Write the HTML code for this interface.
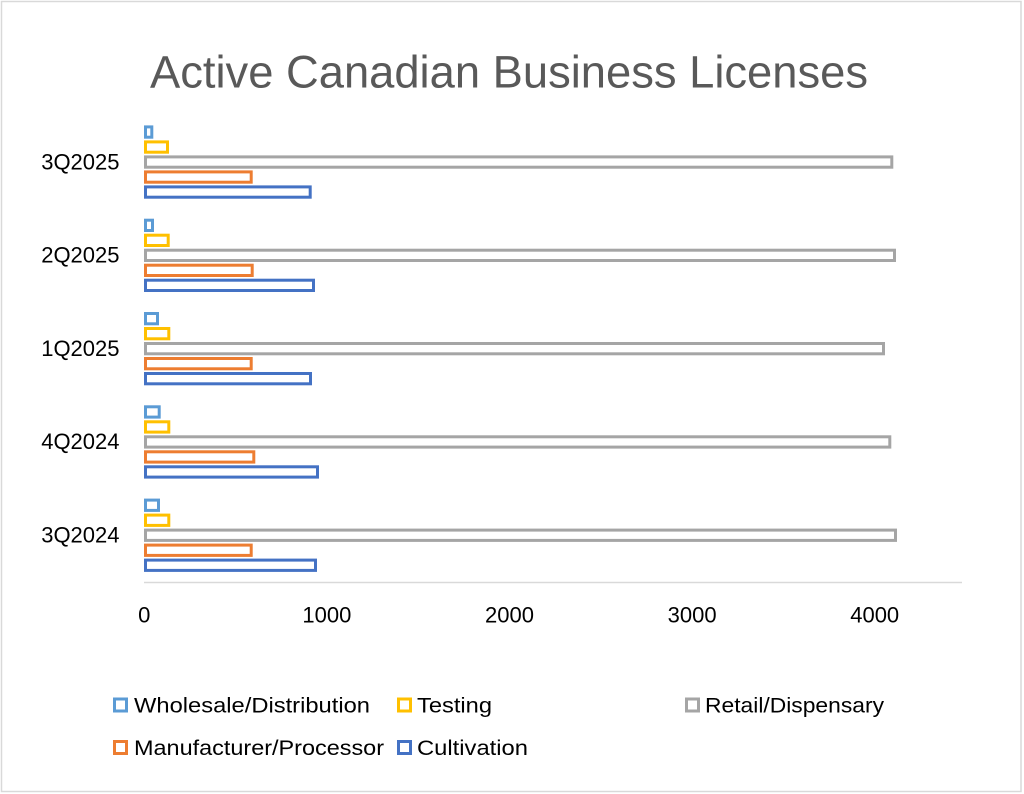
<!DOCTYPE html>
<html>
<head>
<meta charset="utf-8">
<style>
  html,body{margin:0;padding:0;background:#fff;}
  svg{display:block;}
  text{font-family:"Liberation Sans",Arial,sans-serif;}
</style>
</head>
<body>
<svg width="1024" height="794" viewBox="0 0 1024 794" xmlns="http://www.w3.org/2000/svg">
  <rect x="0" y="0" width="1024" height="794" fill="#ffffff"/>
  <rect x="1.5" y="1.5" width="1019.5" height="790" fill="none" stroke="#d9d9d9" stroke-width="1.5"/>

  <!-- Title -->
  <text x="150" y="87.5" font-size="45" fill="#595959" textLength="718" lengthAdjust="spacingAndGlyphs">Active Canadian Business Licenses</text>

  <!-- Axis line -->
  <line x1="144" y1="582.5" x2="962" y2="582.5" stroke="#d9d9d9" stroke-width="1.5"/>

  <!-- X tick labels -->
  <g font-size="22" fill="#000" text-anchor="middle">
    <text x="144.3" y="622.5">0</text>
    <text x="326.9" y="622.5">1000</text>
    <text x="509.5" y="622.5">2000</text>
    <text x="692.1" y="622.5">3000</text>
    <text x="874.7" y="622.5">4000</text>
  </g>

  <!-- Category labels -->
  <g font-size="22" fill="#000" text-anchor="end">
    <text x="119.5" y="169.3">3Q2025</text>
    <text x="119.5" y="262.6">2Q2025</text>
    <text x="119.5" y="355.9">1Q2025</text>
    <text x="119.5" y="449.2">4Q2024</text>
    <text x="119.5" y="542.5">3Q2024</text>
  </g>

  <!-- Bars -->
  <g fill="#ffffff" stroke-width="3">
    <!-- 3Q2025, center 162.7 -->
    <rect x="145.5" y="126.9" width="6.3" height="10.3" stroke="#5B9BD5"/>
    <rect x="145.5" y="141.9" width="22" height="10.3" stroke="#FFC000"/>
    <rect x="145.5" y="156.9" width="746.3" height="10.3" stroke="#A5A5A5"/>
    <rect x="145.5" y="171.9" width="105.7" height="10.3" stroke="#ED7D31"/>
    <rect x="145.5" y="186.9" width="164.7" height="10.3" stroke="#4472C4"/>

    <!-- 2Q2025, center 256 -->
    <rect x="145.5" y="220.2" width="7" height="10.3" stroke="#5B9BD5"/>
    <rect x="145.5" y="235.2" width="22.7" height="10.3" stroke="#FFC000"/>
    <rect x="145.5" y="250.2" width="749" height="10.3" stroke="#A5A5A5"/>
    <rect x="145.5" y="265.2" width="106.7" height="10.3" stroke="#ED7D31"/>
    <rect x="145.5" y="280.2" width="168" height="10.3" stroke="#4472C4"/>

    <!-- 1Q2025, center 349.3 -->
    <rect x="145.5" y="313.5" width="12" height="10.3" stroke="#5B9BD5"/>
    <rect x="145.5" y="328.5" width="23.3" height="10.3" stroke="#FFC000"/>
    <rect x="145.5" y="343.5" width="738" height="10.3" stroke="#A5A5A5"/>
    <rect x="145.5" y="358.5" width="105.7" height="10.3" stroke="#ED7D31"/>
    <rect x="145.5" y="373.5" width="165" height="10.3" stroke="#4472C4"/>

    <!-- 4Q2024, center 442.6 -->
    <rect x="145.5" y="406.8" width="13.7" height="10.3" stroke="#5B9BD5"/>
    <rect x="145.5" y="421.8" width="23.3" height="10.3" stroke="#FFC000"/>
    <rect x="145.5" y="436.8" width="744.3" height="10.3" stroke="#A5A5A5"/>
    <rect x="145.5" y="451.8" width="108.3" height="10.3" stroke="#ED7D31"/>
    <rect x="145.5" y="466.8" width="172" height="10.3" stroke="#4472C4"/>

    <!-- 3Q2024, center 535.9 -->
    <rect x="145.5" y="500.1" width="13" height="10.3" stroke="#5B9BD5"/>
    <rect x="145.5" y="515.1" width="23.3" height="10.3" stroke="#FFC000"/>
    <rect x="145.5" y="530.1" width="750" height="10.3" stroke="#A5A5A5"/>
    <rect x="145.5" y="545.1" width="105.7" height="10.3" stroke="#ED7D31"/>
    <rect x="145.5" y="560.1" width="170" height="10.3" stroke="#4472C4"/>
  </g>

  <!-- Legend -->
  <g fill="#ffffff" stroke-width="3">
    <rect x="114.5" y="699" width="12" height="12" stroke="#5B9BD5"/>
    <rect x="398.5" y="699" width="12" height="12" stroke="#FFC000"/>
    <rect x="686.5" y="699" width="12" height="12" stroke="#A5A5A5"/>
    <rect x="114.5" y="741.5" width="12" height="12" stroke="#ED7D31"/>
    <rect x="398.5" y="741.5" width="12" height="12" stroke="#4472C4"/>
  </g>
  <g font-size="21" fill="#000">
    <text x="134" y="712.5" textLength="236" lengthAdjust="spacingAndGlyphs">Wholesale/Distribution</text>
    <text x="417" y="712.5" textLength="75" lengthAdjust="spacingAndGlyphs">Testing</text>
    <text x="705" y="712.5" textLength="179" lengthAdjust="spacingAndGlyphs">Retail/Dispensary</text>
    <text x="134" y="755" textLength="250" lengthAdjust="spacingAndGlyphs">Manufacturer/Processor</text>
    <text x="417" y="755" textLength="111" lengthAdjust="spacingAndGlyphs">Cultivation</text>
  </g>
</svg>
</body>
</html>
